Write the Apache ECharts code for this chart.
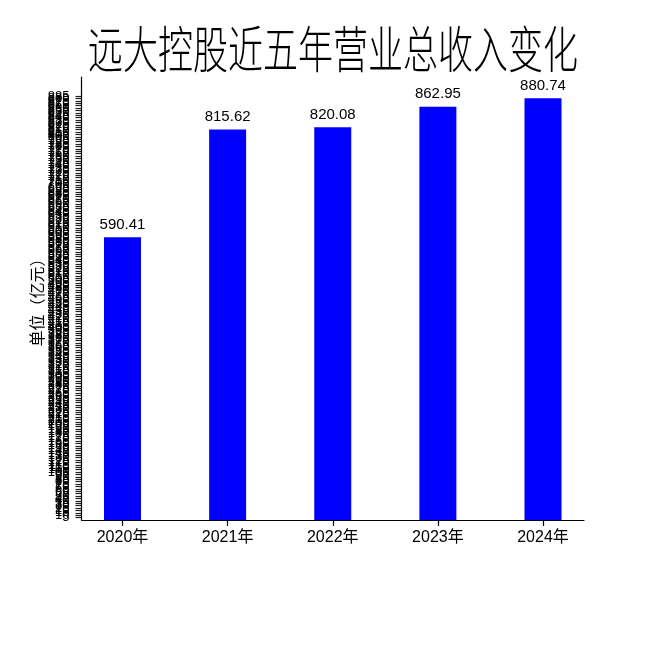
<!DOCTYPE html>
<html>
<head>
<meta charset="utf-8">
<script src="https://cdn.jsdelivr.net/npm/echarts@6/dist/echarts.min.js"></script>
<style>html,body{margin:0;padding:0;background:#fff}#main{width:650px;height:650px}</style>
</head>
<body>
<div id="main"></div>
<script>
const titleText = '远大控股近五年营业总收入变化';
const yAxisName = '单位（亿元）';
const years = ['2020年', '2021年', '2022年', '2023年', '2024年'];
const revenue = [590.41, 815.62, 820.08, 862.95, 880.74];
const yMin = 0, yMax = 925, yTickStep = 5, yTickTop = 890;

const yTicks = [];
for (let v = yMin; v <= yTickTop; v += yTickStep) yTicks.push(v);
const xPositions = years.map((_, i) => i);

const chart = echarts.init(document.getElementById('main'));
chart.setOption({
  animation: false,
  backgroundColor: '#fff',
  graphic: [{
    type: 'text',
    x: 333,
    y: 24,
    scaleX: 0.70,
    style: {
      text: titleText,
      fontFamily: 'Noto Sans CJK SC',
      fontSize: 50,
      fontWeight: 300,
      fill: '#000',
      align: 'center',
      verticalAlign: 'top'
    }
  }],
  grid: { left: 81.5, right: 66, top: 77, bottom: 130 },
  xAxis: {
    type: 'value',
    min: -0.39,
    max: 4.39,
    splitLine: { show: false },
    axisLine: { show: true, onZero: false, lineStyle: { color: '#000', width: 1.2 } },
    axisTick: { show: true, customValues: xPositions, length: 6, lineStyle: { color: '#000', width: 1.2 } },
    axisLabel: {
      customValues: xPositions,
      margin: 10,
      color: '#000',
      fontSize: 16,
      fontFamily: '"Liberation Sans", "Noto Sans CJK SC"',
      formatter: v => years[Math.round(v)]
    }
  },
  yAxis: {
    type: 'value',
    min: yMin,
    max: yMax,
    name: yAxisName,
    nameLocation: 'middle',
    nameGap: 37,
    nameMoveOverlap: false,
    nameTextStyle: { fontSize: 16, color: '#000', fontFamily: '"Noto Sans CJK SC"' },
    splitLine: { show: false },
    axisLine: { show: true, onZero: false, lineStyle: { color: '#000', width: 1.2 } },
    axisTick: { show: true, customValues: yTicks, length: 6, lineStyle: { color: '#222', width: 1.2, opacity: 1 } },
    axisLabel: {
      customValues: yTicks,
      margin: 12,
      color: '#000',
      fontSize: 13,
      fontFamily: '"Liberation Sans"',
      hideOverlap: false
    }
  },
  series: [{
    type: 'bar',
    data: revenue.map((v, i) => [xPositions[i], v]),
    barWidth: 37,
    itemStyle: { color: '#0000ff' },
    label: {
      show: true,
      position: 'top',
      distance: 5,
      color: '#000',
      fontSize: 15,
      fontFamily: '"Liberation Sans"',
      formatter: p => revenue[p.dataIndex].toFixed(2)
    }
  }]
});
</script>
</body>
</html>
